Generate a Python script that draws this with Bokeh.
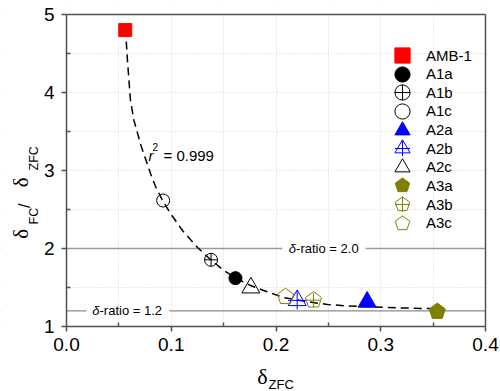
import math
from bokeh.plotting import figure
from bokeh.models import (Label, Legend, LegendItem, Span, BoxAnnotation, LinearAxis,
                          FixedTicker, NumeralTickFormatter, Range1d)
from bokeh.embed import file_html
from bokeh.resources import INLINE

# ---------------- data ----------------
samples = ["AMB-1", "A1a", "A1b", "A1c", "A2a", "A2b", "A2c", "A3a", "A3b", "A3c"]
delta_zfc = [0.0561, 0.1613, 0.1380, 0.0923, 0.2870, 0.2202, 0.1760, 0.3540, 0.2358, 0.2091]
delta_ratio = [4.80, 1.620, 1.855, 2.615, 1.315, 1.335, 1.497, 1.192, 1.338, 1.382]

# fitted curve (dashed)
fit_x = [0.0563, 0.0582, 0.0611, 0.0644, 0.0711, 0.0802, 0.0850, 0.0917, 0.0993,
         0.1107, 0.1251, 0.1375, 0.1489, 0.1623, 0.1757, 0.1881, 0.2072, 0.2282,
         0.2492, 0.2683, 0.3045, 0.3408, 0.3532]
fit_y = [4.821, 4.410, 3.897, 3.641, 3.321, 2.962, 2.795, 2.615, 2.449,
         2.231, 2.013, 1.859, 1.731, 1.615, 1.526, 1.462, 1.372, 1.321,
         1.282, 1.263, 1.244, 1.231, 1.231]
r_squared = "0.999"

ratio_lines = [2.0, 1.2]

x_ticks = [0.0, 0.1, 0.2, 0.3, 0.4]
x_minor = [0.05, 0.15, 0.25, 0.35]
y_ticks = [1, 2, 3, 4, 5]
y_minor = [1.5, 2.5, 3.5, 4.5]

# ---------------- layout (pixels) ----------------
W, H = 500, 391
BOX_L, BOX_R, BOX_T, BOX_B = 66, 485, 14, 326     # plot box inside the canvas
X0, X1 = x_ticks[0], x_ticks[-1]
Y0, Y1 = y_ticks[0], y_ticks[-1]
kx = (X1 - X0) / (BOX_R - BOX_L)
ky = (Y1 - Y0) / (BOX_B - BOX_T)
x_range = Range1d(X0 - BOX_L * kx, X1 + (W - BOX_R) * kx)
y_range = Range1d(Y0 - (H - BOX_B) * ky, Y1 + BOX_T * ky)


def sy(img_y):
    """screen y (from the bottom) for a pixel row counted from the top"""
    return H - img_y

# ---------------- styles ----------------
RED, BLUE, OLIVE, BLACK = "#ff0000", "#0000ff", "#808000", "#000000"
AXC = "#505050"
GRID = "#d4d4d4"
FONT = "Liberation Sans"
SERIF = "Liberation Serif"

p = figure(width=W, height=H, x_range=x_range, y_range=y_range,
           output_backend="svg", toolbar_location=None,
           x_axis_location=None, y_axis_location=None,
           min_border_left=0, min_border_right=0, min_border_top=0,
           min_border_bottom=0)
p.background_fill_color = "white"
p.border_fill_color = "white"
p.outline_line_color = None


def style_axis(ax):
    ax.axis_line_color = AXC
    ax.axis_line_width = 1.5
    ax.major_tick_line_color = AXC
    ax.major_tick_line_width = 1.5
    ax.major_tick_out = 5
    ax.major_tick_in = 0
    ax.minor_tick_line_color = AXC
    ax.minor_tick_line_width = 1.5
    ax.minor_tick_in = 4
    ax.minor_tick_out = 0
    ax.major_label_text_font = FONT
    ax.major_label_text_font_size = "19px"
    ax.major_label_text_color = BLACK
    ax.axis_label = None


xaxis = LinearAxis(fixed_location=Y0, bounds=(X0, X1),
                   ticker=FixedTicker(ticks=x_ticks, minor_ticks=x_minor),
                   formatter=NumeralTickFormatter(format="0.0"))
style_axis(xaxis)
xaxis.major_label_standoff = 6
p.add_layout(xaxis, "below")

yaxis = LinearAxis(fixed_location=X0, bounds=(Y0, Y1),
                   ticker=FixedTicker(ticks=y_ticks, minor_ticks=y_minor),
                   formatter=NumeralTickFormatter(format="0"))
style_axis(yaxis)
yaxis.major_label_standoff = 7
p.add_layout(yaxis, "left")

# plain frame lines on top and right
top_ax = LinearAxis(fixed_location=Y1, bounds=(X0, X1), ticker=FixedTicker(ticks=[]))
style_axis(top_ax)
p.add_layout(top_ax, "above")
right_ax = LinearAxis(fixed_location=X1, bounds=(Y0, Y1), ticker=FixedTicker(ticks=[]))
style_axis(right_ax)
p.add_layout(right_ax, "right")

for g, tk in ((p.xgrid[0], FixedTicker(ticks=x_ticks, minor_ticks=x_minor)),
              (p.ygrid[0], FixedTicker(ticks=y_ticks, minor_ticks=y_minor))):
    g.ticker = tk
    g.grid_line_color = GRID
    g.grid_line_dash = "1 2"
    g.grid_line_width = 1
    g.minor_grid_line_color = GRID
    g.minor_grid_line_dash = "1 2"
    g.minor_grid_line_width = 1

# reference lines (delta-ratio = 2.0 / 1.2)
span_styles = [("#9a9a9a", 1.5), ("#6e6e6e", 1.0)]
for loc, (col, lw) in zip(ratio_lines, span_styles):
    p.add_layout(Span(location=loc, dimension="width", line_color=col,
                      line_width=lw, level="underlay"))

# white gaps behind the ratio labels
ratio_label_x = [288.3, 91.7]
ratio_gap = [(281.7, 365.0), (86.0, 169.0)]
for loc, (g0, g1) in zip(ratio_lines, ratio_gap):
    p.add_layout(BoxAnnotation(left=g0, right=g1, left_units="screen",
                               right_units="screen", bottom=loc - 0.04,
                               top=loc + 0.04, fill_color="white", fill_alpha=1,
                               line_alpha=0, level="underlay"))

# white masks outside the plot box (grid lines and spans stop at the box)
for kw in (dict(right=X0), dict(left=X1), dict(top=Y0), dict(bottom=Y1)):
    p.add_layout(BoxAnnotation(fill_color="white", fill_alpha=1, line_alpha=0,
                               level="underlay", **kw))

for loc, lx in zip(ratio_lines, ratio_label_x):
    p.add_layout(Label(x=lx, y=loc, x_units="screen", y_units="data", text="δ",
                       text_font=FONT, text_font_style="italic",
                       text_font_size="13px", text_baseline="middle",
                       text_align="left", text_color=BLACK))
    p.add_layout(Label(x=lx + 7.3, y=loc, x_units="screen", y_units="data",
                       text=f"-ratio = {loc:.1f}", text_font=FONT,
                       text_font_size="13px", text_baseline="middle",
                       text_align="left", text_color=BLACK))

# fitted dashed curve
p.line(fit_x, fit_y, line_color=BLACK, line_width=1.5, line_dash="8 5")

# points
def pt(i):
    return [delta_zfc[i]], [delta_ratio[i]]

renderers = {}
x, y = pt(0)
renderers["AMB-1"] = [p.scatter(x, y, marker="square", size=13, fill_color=RED, line_color=RED)]
x, y = pt(1)
renderers["A1a"] = [p.scatter(x, y, marker="circle", size=13, fill_color=BLACK, line_color=BLACK)]
x, y = pt(2)
renderers["A1b"] = [p.scatter(x, y, marker="circle_cross", size=13, fill_color=None, line_color=BLACK)]
x, y = pt(3)
renderers["A1c"] = [p.scatter(x, y, marker="circle", size=13, fill_color=None, line_color=BLACK)]
x, y = pt(4)
renderers["A2a"] = [p.scatter(x, y, marker="triangle", size=18, fill_color=BLUE, line_color=BLUE)]
x, y = pt(5)
renderers["A2b"] = [p.scatter(x, y, marker="triangle", size=18, fill_color=None, line_color=BLUE),
                    p.scatter(x, y, marker="cross", size=18, line_color=BLUE)]
x, y = pt(6)
renderers["A2c"] = [p.scatter(x, y, marker="triangle", size=18, fill_color=None, line_color=BLACK)]


def pentagon(x, y, fill):
    try:
        return p.ngon(x, y, radius=8.5, radius_units="screen", n=5,
                      fill_color=fill, line_color=OLIVE, line_width=1)
    except Exception:
        return p.scatter(x, y, marker="hex", size=16, fill_color=fill, line_color=OLIVE)

x, y = pt(7)
renderers["A3a"] = [pentagon(x, y, OLIVE)]
x, y = pt(8)
renderers["A3b"] = [pentagon(x, y, None),
                    p.scatter(x, y, marker="cross", size=14, line_color=OLIVE)]
x, y = pt(9)
renderers["A3c"] = [pentagon(x, y, None)]

# legend: one single-item legend per row so that rows can be packed tightly
row0, pitch, box, glyph_cx = 55, 18.63, 38, 402
for i, s in enumerate(samples):
    cy = sy(row0 + i * pitch)
    p.add_layout(Legend(items=[LegendItem(label=s, renderers=renderers[s])],
                        location=(glyph_cx - box / 2, cy - box / 2), glyph_width=box,
                        glyph_height=box, padding=0, margin=0, spacing=0,
                        label_standoff=5, border_line_alpha=0,
                        background_fill_alpha=0, label_text_font=FONT,
                        label_text_font_size="15px", label_text_color=BLACK))


def text(x, y, t, font=FONT, size="15px", style="normal", angle=0.0):
    p.add_layout(Label(x=x, y=y, x_units="screen", y_units="screen", text=t,
                       text_font=font, text_font_size=size, text_font_style=style,
                       angle=angle, text_align="left", text_baseline="alphabetic",
                       text_color=BLACK))

# r^2 annotation
text(148, sy(155), "r", style="italic")
text(152, sy(146.5), "2", size="10px")
text(163, sy(155), f"= {r_squared}")

# x-axis title: delta with subscript ZFC
text(256.7, sy(375.5), "δ", font=SERIF, size="22px")
text(268.0, sy(383.8), "ZFC", size="13px")

# y-axis title: delta_FC / delta_ZFC, rotated
UP = math.pi / 2
text(20.0, sy(238.3), "δ", font=SERIF, size="21px", angle=UP)
text(33.3, sy(224.0), "FC", size="12.5px", angle=UP)
text(23.5, sy(207.5), "/", size="16px", angle=UP)
text(20.0, sy(186.7), "δ", font=SERIF, size="21px", angle=UP)
text(33.3, sy(170.0), "ZFC", size="12.5px", angle=UP)

open("out.html", "w").write(file_html(p, INLINE))
